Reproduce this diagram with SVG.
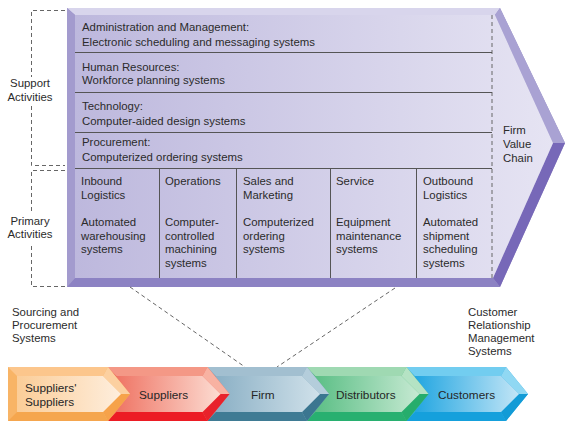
<svg xmlns="http://www.w3.org/2000/svg" xmlns:xlink="http://www.w3.org/1999/xlink" width="568" height="425" viewBox="0 0 568 425">
<style>
text{font-family:"Liberation Sans",Arial,sans-serif;font-size:11.4px;fill:#2b2b2b}
.chev text{font-size:11.8px;fill:#262626}
.row{stroke:#555;stroke-width:1;fill:none}
.dash{stroke:#666;stroke-width:1;stroke-dasharray:4 3;fill:none}
</style>
<defs>
<linearGradient id="vcFace" gradientUnits="userSpaceOnUse" x1="75" y1="0" x2="553" y2="0">
<stop offset="0" stop-color="#bdb8dd"/><stop offset="1" stop-color="#e6e4f3"/>
</linearGradient>
<linearGradient id="gOr" x1="0" y1="0" x2="1" y2="0"><stop offset="0" stop-color="#fbcd98"/><stop offset="1" stop-color="#feeedd"/></linearGradient>
<linearGradient id="gRd" x1="0" y1="0" x2="1" y2="0"><stop offset="0" stop-color="#ef7565"/><stop offset="1" stop-color="#fcdcd2"/></linearGradient>
<linearGradient id="gBl" x1="0" y1="0" x2="1" y2="0"><stop offset="0" stop-color="#8bb0c5"/><stop offset="1" stop-color="#d0e1ea"/></linearGradient>
<linearGradient id="gGr" x1="0" y1="0" x2="1" y2="0"><stop offset="0" stop-color="#5cbf86"/><stop offset="1" stop-color="#c6e9d2"/></linearGradient>
<linearGradient id="gCy" x1="0" y1="0" x2="1" y2="0"><stop offset="0" stop-color="#22a6e1"/><stop offset="1" stop-color="#c2e5f6"/></linearGradient>
<polygon id="chv-out" points="0,0 100,0 122,27 100,54 0,54"/>
<polygon id="chv-top" points="0,0 100,0 95,9 9,9"/>
<polygon id="chv-ur" points="100,0 122,27 113,27 95,9"/>
<polygon id="chv-lr" points="122,27 100,54 95,45 113,27"/>
<polygon id="chv-bot" points="0,54 100,54 95,45 9,45"/>
<polygon id="chv-face" points="9,9 95,9 113,27 95,45 9,45"/>
</defs>

<g id="value-chain">
<polygon points="67,8 500,8 565,143 500,287 67,287" fill="#9a91c9"/>
<polygon points="67,8 500,8 495,15 75,15" fill="#d8d5ec"/>
<polygon points="500,8 565,143 553,143 495,15" fill="#a9a2d3"/>
<polygon points="565,143 500,287 493,278 553,143" fill="#7768b8"/>
<polygon points="67,287 500,287 493,278 75,278" fill="#8c82c3"/>
<polygon points="67,8 75,15 75,278 67,287" fill="#a39bce"/>
<polygon points="75,15 495,15 553,143 493,278 75,278" fill="url(#vcFace)"/>
<line class="dash" x1="492" y1="15" x2="492" y2="278"/>
<text x="503"><tspan x="503" y="134">Firm</tspan><tspan x="503" y="148">Value</tspan><tspan x="503" y="162">Chain</tspan></text>
</g>

<g id="admin">
<text><tspan x="82" y="31">Administration and Management:</tspan><tspan x="82" y="46">Electronic scheduling and messaging systems</tspan></text>
<line class="row" x1="75" y1="52.5" x2="492" y2="52.5"/>
</g>
<g id="hr">
<text><tspan x="82" y="71">Human Resources:</tspan><tspan x="82" y="84">Workforce planning systems</tspan></text>
<line class="row" x1="75" y1="92.5" x2="492" y2="92.5"/>
</g>
<g id="technology">
<text><tspan x="82" y="110">Technology:</tspan><tspan x="82" y="125">Computer-aided design systems</tspan></text>
<line class="row" x1="75" y1="132.5" x2="492" y2="132.5"/>
</g>
<g id="procurement">
<text><tspan x="82" y="146">Procurement:</tspan><tspan x="82" y="161">Computerized ordering systems</tspan></text>
<line class="row" x1="75" y1="168.5" x2="492" y2="168.5"/>
</g>

<g id="inbound">
<text><tspan x="81" y="185">Inbound</tspan><tspan x="81" y="199">Logistics</tspan><tspan x="81" y="226">Automated</tspan><tspan x="81" y="240">warehousing</tspan><tspan x="81" y="253">systems</tspan></text>
<line class="row" x1="159.5" y1="168" x2="159.5" y2="278"/>
</g>
<g id="operations">
<text><tspan x="165" y="185">Operations</tspan><tspan x="165" y="226">Computer-</tspan><tspan x="165" y="240">controlled</tspan><tspan x="165" y="253">machining</tspan><tspan x="165" y="267">systems</tspan></text>
<line class="row" x1="236.5" y1="168" x2="236.5" y2="278"/>
</g>
<g id="sales">
<text><tspan x="243" y="185">Sales and</tspan><tspan x="243" y="199">Marketing</tspan><tspan x="243" y="226">Computerized</tspan><tspan x="243" y="240">ordering</tspan><tspan x="243" y="253">systems</tspan></text>
<line class="row" x1="330.5" y1="168" x2="330.5" y2="278"/>
</g>
<g id="service">
<text><tspan x="336" y="185">Service</tspan><tspan x="336" y="226">Equipment</tspan><tspan x="336" y="240">maintenance</tspan><tspan x="336" y="253">systems</tspan></text>
<line class="row" x1="416.5" y1="168" x2="416.5" y2="278"/>
</g>
<g id="outbound">
<text><tspan x="423" y="185">Outbound</tspan><tspan x="423" y="199">Logistics</tspan><tspan x="423" y="226">Automated</tspan><tspan x="423" y="240">shipment</tspan><tspan x="423" y="253">scheduling</tspan><tspan x="423" y="267">systems</tspan></text>
</g>

<g id="support-label">
<path class="dash" d="M65,10.5 H31.5 V77 M31.5,106 V165.5 H65"/>
<text text-anchor="middle"><tspan x="30" y="87">Support</tspan><tspan x="30" y="101">Activities</tspan></text>
</g>
<g id="primary-label">
<path class="dash" d="M65,170.5 H31.5 V212 M31.5,246 V286.5 H65"/>
<text text-anchor="middle"><tspan x="30" y="225">Primary</tspan><tspan x="30" y="238">Activities</tspan></text>
</g>

<g id="sourcing-label">
<text><tspan x="12" y="316">Sourcing and</tspan><tspan x="12" y="329">Procurement</tspan><tspan x="12" y="342">Systems</tspan></text>
</g>
<g id="crm-label">
<text><tspan x="468" y="316">Customer</tspan><tspan x="468" y="329">Relationship</tspan><tspan x="468" y="342">Management</tspan><tspan x="468" y="355">Systems</tspan></text>
</g>

<g id="connectors">
<line class="dash" x1="130" y1="287" x2="245" y2="367"/>
<line class="dash" x1="395" y1="288" x2="277" y2="367"/>
</g>

<g id="customers" class="chev" transform="translate(406,367)">
<use xlink:href="#chv-out" fill="#35b0e6"/><use xlink:href="#chv-top" fill="#72cdf0"/><use xlink:href="#chv-ur" fill="#90d8f3"/><use xlink:href="#chv-lr" fill="#129bd6"/><use xlink:href="#chv-bot" fill="#15a0dc"/><use xlink:href="#chv-face" fill="url(#gCy)"/>
<text x="32" y="32">Customers</text>
</g>
<g id="distributors" class="chev" transform="translate(306.5,367)">
<use xlink:href="#chv-out" fill="#56bd84"/><use xlink:href="#chv-top" fill="#9fd9b2"/><use xlink:href="#chv-ur" fill="#b5e3c4"/><use xlink:href="#chv-lr" fill="#26ad6c"/><use xlink:href="#chv-bot" fill="#28b070"/><use xlink:href="#chv-face" fill="url(#gGr)"/>
<text x="29.5" y="32">Distributors</text>
</g>
<g id="firm" class="chev" transform="translate(207,367)">
<use xlink:href="#chv-out" fill="#7fa6bc"/><use xlink:href="#chv-top" fill="#a2bfd0"/><use xlink:href="#chv-ur" fill="#b4cddb"/><use xlink:href="#chv-lr" fill="#3b7690"/><use xlink:href="#chv-bot" fill="#3f7b94"/><use xlink:href="#chv-face" fill="url(#gBl)"/>
<text x="44" y="32">Firm</text>
</g>
<g id="suppliers" class="chev" transform="translate(107.5,367)">
<use xlink:href="#chv-out" fill="#ef6b5e"/><use xlink:href="#chv-top" fill="#f49886"/><use xlink:href="#chv-ur" fill="#f8b2a2"/><use xlink:href="#chv-lr" fill="#e8222b"/><use xlink:href="#chv-bot" fill="#ec1c24"/><use xlink:href="#chv-face" fill="url(#gRd)"/>
<text x="31.5" y="32">Suppliers</text>
</g>
<g id="suppliers-suppliers" class="chev" transform="translate(8,367)">
<use xlink:href="#chv-out" fill="#f8b466"/><use xlink:href="#chv-top" fill="#fcc68c"/><use xlink:href="#chv-ur" fill="#fcd0a0"/><use xlink:href="#chv-lr" fill="#f6a24a"/><use xlink:href="#chv-bot" fill="#f5a64e"/><use xlink:href="#chv-face" fill="url(#gOr)"/>
<text><tspan x="17" y="24.5">Suppliers'</tspan><tspan x="17" y="38.5">Suppliers</tspan></text>
</g>
</svg>
